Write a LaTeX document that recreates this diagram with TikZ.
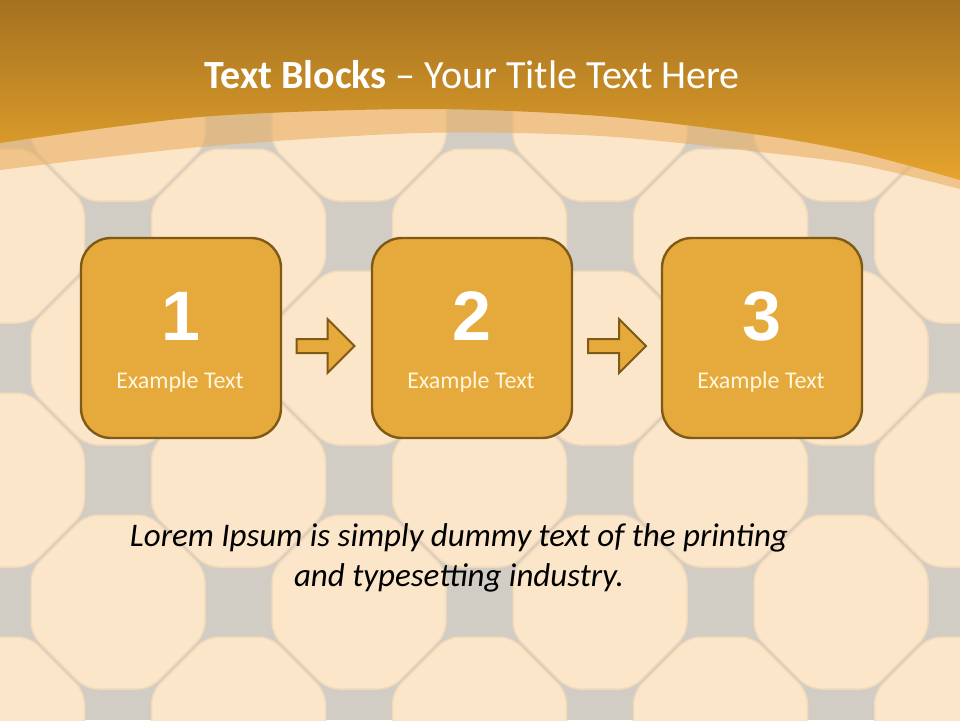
\documentclass[tikz,border=0pt]{standalone}
\usepackage{fontspec}
\setmainfont{Carlito}
\newfontfamily\numfont{Liberation Sans}
\usetikzlibrary{shapes.arrows,calc}
\definecolor{hdrtop}{HTML}{A4711F}
\definecolor{hdrbot}{HTML}{E6A42D}
\definecolor{bandcol}{HTML}{E8AE62}
\definecolor{tilecol}{HTML}{FCE6C9}
\definecolor{tileedge}{HTML}{F1D9B9}
\definecolor{groutcol}{HTML}{D1CCC4}
\definecolor{boxfill}{HTML}{E6A93B}
\definecolor{boxline}{HTML}{7F5916}
\definecolor{extcol}{HTML}{FFF6DE}
\tikzset{
  tile/.style={fill=tilecol, draw=tileedge, line width=1.5pt, rounded corners=12pt},
  blockbox/.style={draw=boxline, line width=2.4pt, fill=boxfill, rounded corners=30pt,
    minimum width=200pt, minimum height=200pt, inner sep=0pt},
  numtext/.style={text=white, font=\numfont\bfseries\fontsize{70}{80}\selectfont, inner sep=0pt},
  extext/.style={text=extcol, font=\fontsize{24}{28}\selectfont, inner sep=0pt},
  blockarrow/.style={single arrow, draw=boxline, line width=2pt, fill=boxfill,
    minimum height=58pt, minimum width=52pt, inner sep=6pt,
    single arrow head extend=20pt, single arrow head indent=0pt, shape border rotate=0},
}
\begin{document}
\begin{tikzpicture}[x=1pt,y=-1pt]
\useasboundingbox (0,0) rectangle (960,720);
\begin{scope}
\clip (0,0) rectangle (960,720);
% grout background
\fill[groutcol] (0,0) rectangle (960,720);
% octagon tiles
\foreach \m in {-1,...,8}{
  \foreach \n in {-4,...,3}{
    \pgfmathtruncatemacro\pp{mod(\m+\n+20,2)}
    \ifnum\pp=1
      \pgfmathsetmacro\cx{118+120.5*\m}
      \pgfmathsetmacro\cy{480+122*\n}
      \path[tile, shift={(\cx,\cy)}] (87,-32) -- (87,32) -- (32,87) -- (-32,87) -- (-87,32) -- (-87,-32) -- (-32,-87) -- (32,-87) -- cycle;
    \fi
  }
}
% translucent band under header
\fill[bandcol, opacity=0.6] (0,0) -- plot[smooth] coordinates {(0,170) (200,147) (420,133) (600,136) (760,152) (860,165) (960,189)} -- (960,0) -- cycle;
% header
\shade[top color=hdrtop, bottom color=hdrbot] (0,0) -- plot[smooth] coordinates {(0,143) (200,117) (420,109) (600,116) (760,135) (860,153) (960,180)} -- (960,0) -- cycle;
\end{scope}
% title
\node[text=white, font=\fontsize{40}{48}\selectfont, inner sep=0pt] (title) at (472,75) {\textbf{Text Blocks} – Your Title Text Here};
% boxes
\node[blockbox] (b1) at (181,338) {};
\node[blockbox] (b2) at (472,338) {};
\node[blockbox] (b3) at (762,338) {};
\node[numtext] (n1) at (181,316) {1};
\node[numtext] (n2) at (472,316) {2};
\node[numtext] (n3) at (762,316) {3};
\node[extext] (e1) at (180,382) {Example Text};
\node[extext] (e2) at (471,382) {Example Text};
\node[extext] (e3) at (761,382) {Example Text};
% arrows
\node[blockarrow, xshift=-4.5pt, yshift=-8pt] (a1) at ($(b1.east)!0.5!(b2.west)$) {};
\node[blockarrow, xshift=-3.5pt, yshift=-8pt] (a2) at ($(b2.east)!0.5!(b3.west)$) {};
% body text
\node[font=\itshape\fontsize{33}{40}\selectfont, align=center, inner sep=0pt] (lorem) at (459,558) {Lorem Ipsum is simply dummy text of the printing\\and typesetting industry.};
\end{tikzpicture}
\end{document}
